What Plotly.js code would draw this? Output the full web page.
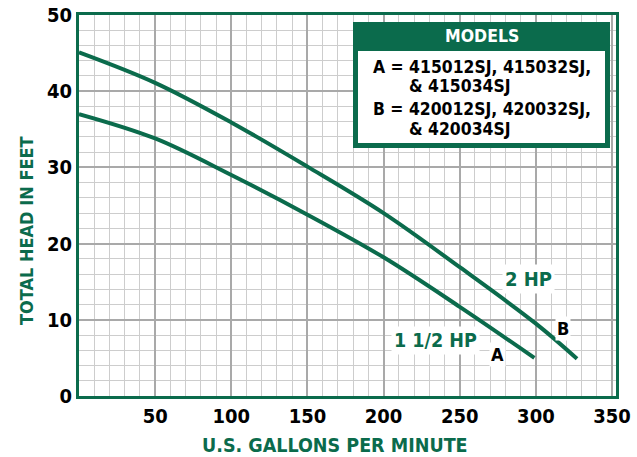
<!DOCTYPE html>
<html>
<head>
<meta charset="utf-8">
<script src="https://cdn.plot.ly/plotly-3.0.1.min.js"></script>
<style>html,body{margin:0;padding:0;background:#fff;}#chart{width:637px;height:457px;}</style>
</head>
<body>
<div id="chart"></div>
<script>
// Data
const gpmA = [0, 50, 100, 150, 200, 250, 299];
const headA = [37.0, 33.8, 29.0, 23.8, 18.2, 11.7, 5.0];
const gpmB = [0, 50, 100, 150, 200, 250, 300, 327];
const headB = [45.1, 41.1, 35.9, 30.1, 24.0, 16.9, 9.5, 4.9];
const xTicks = [50, 100, 150, 200, 250, 300, 350];
const yTicks = [0, 10, 20, 30, 40, 50];
const modelLines = ["A = 415012SJ, 415032SJ,", "& 415034SJ", "B = 420012SJ, 420032SJ,", "& 420034SJ"];

const GREEN = '#0b6b4c';
const FONT = 'DejaVu Sans Condensed, Liberation Sans Narrow, sans-serif';

// plot area in pixels: left 79, right 616, top 15, bottom 396
const L = 79, R = 616, T = 15, B = 396;
const px = x => (x - L) / (R - L);
const py = y => (B - y) / (B - T);

const traces = [
  {x: gpmA, y: headA, mode: 'lines', line: {color: GREEN, width: 4, shape: 'spline', smoothing: 1}, hoverinfo: 'skip'},
  {x: gpmB, y: headB, mode: 'lines', line: {color: GREEN, width: 4, shape: 'spline', smoothing: 1}, hoverinfo: 'skip'}
];

const annotations = [
  {text: 'MODELS', xref: 'paper', yref: 'paper', x: px(481.7), y: py(36), showarrow: false,
   font: {family: FONT, size: 17.5, color: '#fff', weight: 'bold'}, xanchor: 'center', yanchor: 'middle'},
  {text: modelLines[0], xref: 'paper', yref: 'paper', x: px(371), y: py(67), showarrow: false,
   font: {family: FONT, size: 17.4, color: '#000', weight: 'bold'}, xanchor: 'left', yanchor: 'middle'},
  {text: modelLines[1], xref: 'paper', yref: 'paper', x: px(407), y: py(86.5), showarrow: false,
   font: {family: FONT, size: 17.4, color: '#000', weight: 'bold'}, xanchor: 'left', yanchor: 'middle'},
  {text: modelLines[2], xref: 'paper', yref: 'paper', x: px(371), y: py(109), showarrow: false,
   font: {family: FONT, size: 17.4, color: '#000', weight: 'bold'}, xanchor: 'left', yanchor: 'middle'},
  {text: modelLines[3], xref: 'paper', yref: 'paper', x: px(407), y: py(128.5), showarrow: false,
   font: {family: FONT, size: 17.4, color: '#000', weight: 'bold'}, xanchor: 'left', yanchor: 'middle'},
  {text: '2 HP', x: 295, y: 15.4, showarrow: false, bgcolor: '#fff', borderpad: 2,
   font: {family: FONT, size: 20, color: GREEN, weight: 'bold'}},
  {text: '1 1/2 HP', x: 234, y: 7.3, showarrow: false, bgcolor: '#fff', borderpad: 2,
   font: {family: FONT, size: 19.5, color: GREEN, weight: 'bold'}},
  {text: 'A', x: 275, y: 5.4, showarrow: false, bgcolor: '#fff', borderpad: 1,
   font: {family: FONT, size: 18, color: '#000', weight: 'bold'}},
  {text: 'B', x: 318, y: 8.8, showarrow: false, bgcolor: '#fff', borderpad: 1,
   font: {family: FONT, size: 18, color: '#000', weight: 'bold'}},
  {text: 'U.S. GALLONS PER MINUTE', xref: 'paper', yref: 'paper', x: px(335), y: py(445), showarrow: false,
   font: {family: FONT, size: 19.5, color: GREEN, weight: 'bold'}, xanchor: 'center', yanchor: 'middle'},
  {text: 'TOTAL HEAD IN FEET', xref: 'paper', yref: 'paper', x: px(26), y: py(231), showarrow: false, textangle: -90,
   font: {family: FONT, size: 18, color: GREEN, weight: 'bold'}, xanchor: 'center', yanchor: 'middle'}
];

const shapes = [
  {type: 'rect', xref: 'paper', yref: 'paper', x0: px(353), x1: px(610), y0: py(148), y1: py(22),
   fillcolor: GREEN, line: {width: 0}, layer: 'above'},
  {type: 'rect', xref: 'paper', yref: 'paper', x0: px(358), x1: px(605), y0: py(143), y1: py(51),
   fillcolor: '#fff', line: {width: 0}, layer: 'above'}
];

const layout = {
  width: 637, height: 457,
  margin: {l: L, r: 637 - R, t: T, b: 457 - B},
  paper_bgcolor: '#fff', plot_bgcolor: '#fff',
  showlegend: false,
  xaxis: {
    range: [0, 352.6], tickmode: 'array', tickvals: xTicks, ticktext: xTicks.map(String),
    showgrid: true, gridcolor: '#a9a9a9', gridwidth: 2, zeroline: false,
    showline: true, mirror: true, linecolor: GREEN, linewidth: 3, ticks: '',
    tickfont: {family: FONT, size: 20, color: '#000', weight: 'bold'},
    minor: {tickmode: 'linear', tick0: 0, dtick: 10, showgrid: true, gridcolor: '#cdcdcd', gridwidth: 1, ticks: ''},
    fixedrange: true
  },
  yaxis: {
    range: [0, 50], tickmode: 'array', tickvals: yTicks, ticktext: yTicks.map(String),
    showgrid: true, gridcolor: '#a9a9a9', gridwidth: 2, zeroline: false,
    showline: true, mirror: true, linecolor: GREEN, linewidth: 3, ticks: '',
    tickfont: {family: FONT, size: 20, color: '#000', weight: 'bold'},
    minor: {tickmode: 'linear', tick0: 0, dtick: 2, showgrid: true, gridcolor: '#cdcdcd', gridwidth: 1, ticks: ''},
    fixedrange: true
  },
  annotations: annotations,
  shapes: shapes
};

Plotly.newPlot('chart', traces, layout, {displayModeBar: false, staticPlot: true});
</script>
</body>
</html>
